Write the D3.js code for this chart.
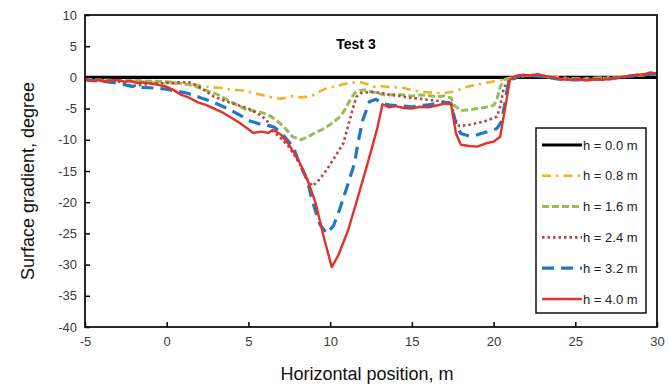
<!DOCTYPE html>
<html>
<head>
<meta charset="utf-8">
<script src="https://cdn.jsdelivr.net/npm/d3@7"></script>
<style>
  html, body { margin: 0; padding: 0; background: #fff; }
  svg { display: block; }
</style>
</head>
<body>
<svg id="chart" width="670" height="385"></svg>
<script>
// Surface gradient profiles along the test section, one per water depth h
const xTicks = [-5, 0, 5, 10, 15, 20, 25, 30];
const yTicks = [10, 5, 0, -5, -10, -15, -20, -25, -30, -35, -40];
const seriesLabels = ["h = 0.0 m", "h = 0.8 m", "h = 1.6 m", "h = 2.4 m", "h = 3.2 m", "h = 4.0 m"];

const h00 = [[-5, 0], [30, 0]];

const h08 = [[-5,-0.4],[-4,-0.5],[-3,-0.5],[-2,-0.6],[-1,-0.7],[0,-1.0],[1,-1.0],[1.8,-1.2],[2.5,-1.5],[3.3,-1.7],
  [4,-2.0],[4.7,-2.1],[5.3,-2.5],[5.8,-2.8],[6.2,-3.1],[6.6,-3.3],[7.0,-3.4],[7.4,-3.2],[7.7,-3.0],[8.2,-3.2],
  [8.6,-3.1],[9.0,-2.8],[9.4,-2.2],[9.8,-1.7],[10.2,-1.5],[10.5,-1.3],[11.1,-0.9],[11.5,-0.8],[11.8,-0.7],[12.2,-1.0],
  [12.7,-1.5],[13.1,-1.4],[13.5,-1.5],[14.0,-1.6],[14.5,-1.7],[15.0,-2.0],[15.5,-2.3],[16.0,-2.4],[16.5,-2.5],[17.0,-2.5],
  [17.5,-2.3],[18.0,-1.9],[18.4,-1.5],[18.9,-1.2],[19.3,-1.0],[19.7,-0.8],[20.0,-0.6],[20.5,-0.4],[21.0,-0.1],[21.5,0.1],
  [22,0.2],[23,0.3],[24,0],[25,-0.2],[26,-0.1],[27,0],[28,0.2],[29,0.3],[30,0.5]];

const h16 = [[-5,-0.3],[-4,-0.4],[-3,-0.5],[-2,-0.5],[-1,-0.6],[0,-0.7],[1,-1.0],[1.6,-1.3],[2.2,-1.9],[2.9,-2.5],
  [3.3,-3.0],[3.7,-3.6],[4.3,-4.4],[4.9,-5.2],[5.4,-5.4],[5.9,-5.7],[6.4,-6.3],[6.9,-7.3],[7.3,-8.3],[7.7,-9.5],
  [8.2,-10.0],[8.6,-9.6],[9.0,-9.0],[9.4,-8.5],[9.8,-7.9],[10.2,-7.2],[10.6,-6.3],[10.9,-5.2],[11.1,-4.2],[11.3,-3.3],
  [11.5,-2.5],[11.8,-2.1],[12.1,-2.0],[12.5,-2.3],[13.0,-2.6],[13.5,-2.9],[14.0,-2.7],[14.5,-2.8],[15.0,-3.0],[15.5,-2.8],
  [16.0,-2.9],[16.5,-3.1],[17.0,-3.0],[17.4,-3.3],[17.6,-4.5],[18.0,-5.3],[18.5,-5.2],[19.0,-5.0],[19.5,-4.8],[20.0,-4.5],
  [20.2,-3.6],[20.4,-1.5],[20.7,-0.3],[21.5,0.2],[22,0.3],[23,0.2],[24,-0.2],[25,-0.3],[26,-0.2],[27,-0.1],[28,0.1],[29,0.4],[30,0.6]];

const h24 = [[-5,-0.3],[-4,-0.5],[-3,-0.6],[-2.5,-1.0],[-2.2,-1.4],[-1.6,-1.2],[-1,-1.0],[0,-0.9],[0.7,-0.8],[1.4,-0.8],
  [2.0,-1.5],[2.5,-2.4],[2.9,-3.1],[3.3,-3.5],[3.7,-3.9],[4.3,-4.4],[4.9,-4.9],[5.3,-5.4],[5.7,-6.0],[6.1,-6.8],
  [6.5,-8.6],[7.0,-9.8],[7.5,-11.2],[7.9,-12.8],[8.3,-14.6],[8.6,-16.3],[8.9,-17.4],[9.2,-16.8],[9.5,-15.8],[9.8,-14.8],
  [10.3,-12.7],[10.8,-10.6],[11.1,-7.8],[11.4,-4.9],[11.6,-3.1],[11.9,-2.5],[12.5,-2.3],[13.1,-2.5],[13.7,-2.8],[14.3,-3.0],
  [14.9,-3.3],[15.5,-3.4],[16.0,-3.6],[16.7,-3.8],[17.4,-4.0],[17.6,-6.5],[17.9,-7.8],[18.5,-7.6],[19.0,-7.3],[19.4,-7.1],
  [19.8,-6.7],[20.2,-6.3],[20.4,-4.7],[20.6,-2.0],[20.8,-0.8],[21.5,0.2],[22,0.3],[23,0.2],[24,-0.2],[25,-0.4],[26,-0.3],
  [27,-0.2],[28,0.1],[29,0.4],[30,0.6]];

const h32 = [[-5,-0.4],[-4,-0.6],[-3,-0.9],[-2.2,-1.4],[-1.5,-1.6],[-0.8,-1.7],[0,-1.9],[0.6,-2.2],[1.2,-2.5],[1.7,-2.9],
  [2.1,-3.3],[2.7,-3.8],[3.3,-4.5],[3.9,-5.2],[4.5,-6.1],[5.1,-7.0],[5.6,-7.4],[6.1,-7.6],[6.6,-8.0],[7.1,-9.2],
  [7.5,-10.4],[7.8,-11.5],[8.0,-13.0],[8.3,-14.8],[8.6,-16.5],[8.9,-19.7],[9.2,-22.2],[9.4,-23.7],[9.8,-25.0],[10.2,-23.8],
  [10.6,-21.0],[11.1,-17.0],[11.5,-13.7],[11.7,-10.5],[12.0,-6.8],[12.4,-3.9],[12.8,-3.5],[13.2,-4.2],[13.6,-4.4],[14.0,-4.5],
  [14.5,-4.6],[15.0,-4.7],[15.5,-4.5],[16.0,-4.4],[16.5,-4.2],[17.0,-4.0],[17.4,-4.2],[17.7,-7.5],[18.0,-9.0],[18.5,-9.4],
  [19.0,-9.2],[19.5,-8.8],[20.0,-8.4],[20.2,-8.2],[20.5,-7.0],[20.9,-1.0],[21.5,0.2],[22,0.4],[22.5,0.3],[23,0.1],[24,-0.3],
  [25,-0.4],[26,-0.3],[27,-0.3],[28,0.1],[29,0.4],[30,0.6]];

const h40 = [[-5,-0.3],[-4.6,-0.6],[-4.2,-0.4],[-3.8,-0.7],[-3.4,-0.5],[-3.0,-0.4],[-2.6,-0.7],[-2.2,-0.6],[-1.8,-0.9],[-1.4,-0.8],
  [-1.0,-1.0],[-0.5,-1.2],[0,-1.5],[0.4,-2.0],[0.9,-2.8],[1.4,-3.3],[1.9,-4.0],[2.4,-4.4],[2.9,-5.0],[3.4,-5.6],
  [3.9,-6.4],[4.4,-7.2],[4.9,-8.1],[5.3,-8.9],[5.8,-8.7],[6.2,-8.9],[6.5,-8.4],[7.0,-9.2],[7.4,-10.5],[7.8,-12.1],
  [8.2,-14.0],[8.6,-16.4],[9.1,-20.0],[9.6,-25.5],[10.1,-30.4],[10.5,-28.5],[11.1,-24.5],[11.7,-19.2],[12.3,-13.7],[12.9,-8.0],
  [13.2,-4.3],[13.6,-4.8],[14.0,-4.6],[14.5,-4.9],[15.0,-5.0],[15.5,-4.7],[16.0,-4.8],[16.5,-4.5],[17.0,-4.2],[17.4,-4.3],
  [17.7,-9.0],[18.0,-10.8],[18.5,-11.0],[19.0,-11.1],[19.5,-10.6],[20.0,-10.3],[20.4,-9.5],[20.7,-5.0],[21.0,-0.4],[21.3,0.2],
  [21.7,0.4],[22.2,0.3],[22.7,0.5],[23.2,0.2],[23.7,0.0],[24.2,-0.3],[24.7,-0.4],[25.2,-0.3],[25.7,-0.5],[26.2,-0.3],
  [26.7,-0.4],[27.2,-0.2],[27.7,0.0],[28.2,0.2],[28.7,0.4],[29.2,0.5],[29.6,0.8],[30,0.6]];

const seriesData = [h00, h08, h16, h24, h32, h40];
const seriesColors = ["#000000", "#f5b223", "#9bbb59", "#b3473e", "#2079bd", "#e8302a"];
const seriesWidths = [3.2, 2.6, 3, 2.6, 3.2, 2.4];
const seriesDashes = [null, "9,5,2.5,5", "7,3", "2.5,3", "12,7", null];

const svg = d3.select("#chart");
const margin = { left: 85, right: 13, top: 15, bottom: 58 };
const W = 670, H = 385;

const x = d3.scaleLinear().domain([-5, 30]).range([margin.left, W - margin.right]);
const y = d3.scaleLinear().domain([-40, 10]).range([H - margin.bottom, margin.top]);

const tickFont = "'Liberation Sans Narrow', 'Arial Narrow', 'Liberation Sans', Arial, sans-serif";
const plain = d => String(d);

// axes with inward ticks
const xAxis = svg.append("g")
  .attr("transform", `translate(0,${y(-40)})`)
  .call(d3.axisBottom(x).tickValues(xTicks).tickFormat(plain).tickSize(-5).tickSizeOuter(0).tickPadding(10));
const yAxis = svg.append("g")
  .attr("transform", `translate(${x(-5)},0)`)
  .call(d3.axisLeft(y).tickValues(yTicks).tickFormat(plain).tickSize(-5).tickSizeOuter(0).tickPadding(8));

[xAxis, yAxis].forEach(g => {
  g.select(".domain").remove();
  g.selectAll(".tick line").attr("stroke", "#000").attr("stroke-width", 1.5);
  g.selectAll(".tick text")
    .attr("font-family", tickFont).attr("font-size", 13).attr("fill", "#3a3a3a");
});

// series lines
const line = d3.line().x(d => x(d[0])).y(d => y(d[1])).curve(d3.curveLinear);
svg.append("clipPath").attr("id", "plotclip").append("rect")
  .attr("x", x(-5)).attr("y", y(10)).attr("width", x(30) - x(-5)).attr("height", y(-40) - y(10));
const plot = svg.append("g").attr("clip-path", "url(#plotclip)");
seriesData.forEach((d, i) => {
  plot.append("path")
    .datum(d)
    .attr("d", line)
    .attr("fill", "none")
    .attr("stroke", seriesColors[i])
    .attr("stroke-width", seriesWidths[i])
    .attr("stroke-dasharray", seriesDashes[i])
    .attr("stroke-linejoin", "round");
});

// plot frame
svg.append("rect")
  .attr("x", x(-5)).attr("y", y(10))
  .attr("width", x(30) - x(-5)).attr("height", y(-40) - y(10))
  .attr("fill", "none").attr("stroke", "#111").attr("stroke-width", 1.8);

// title
svg.append("text")
  .attr("x", 356).attr("y", 49)
  .attr("text-anchor", "middle")
  .attr("font-family", "'Liberation Sans', Arial, sans-serif")
  .attr("font-size", 14).attr("font-weight", "bold")
  .text("Test 3");

// axis titles
svg.append("text")
  .attr("x", 367).attr("y", 380)
  .attr("text-anchor", "middle")
  .attr("font-family", "'Liberation Sans', Arial, sans-serif")
  .attr("font-size", 18).attr("fill", "#111")
  .text("Horizontal position, m");
svg.append("text")
  .attr("transform", `translate(34,${(y(10) + y(-40)) / 2 + 10}) rotate(-90)`)
  .attr("text-anchor", "middle")
  .attr("font-family", "'Liberation Sans', Arial, sans-serif")
  .attr("font-size", 18).attr("fill", "#111")
  .text("Surface gradient, degree");

// legend
const lg = svg.append("g");
lg.append("rect")
  .attr("x", 536).attr("y", 128).attr("width", 110).attr("height", 185)
  .attr("fill", "#fff").attr("stroke", "#111").attr("stroke-width", 1.5);
seriesLabels.forEach((lab, i) => {
  const yy = 145 + i * 30.8;
  lg.append("line")
    .attr("x1", 542).attr("x2", 582).attr("y1", yy).attr("y2", yy)
    .attr("stroke", seriesColors[i])
    .attr("stroke-width", seriesWidths[i])
    .attr("stroke-dasharray", seriesDashes[i]);
  lg.append("text")
    .attr("x", 583).attr("y", yy + 4.5)
    .attr("font-family", tickFont).attr("font-size", 13).attr("fill", "#222")
    .text(lab);
});
</script>
</body>
</html>
